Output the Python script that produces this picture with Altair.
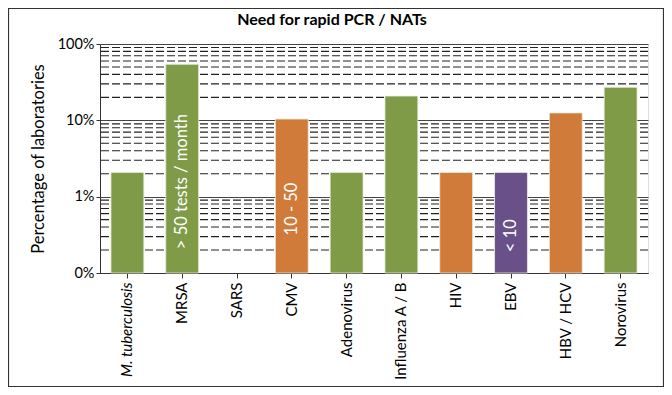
import altair as alt
import pandas as pd

categories = ["M. tuberculosis", "MRSA", "SARS", "CMV", "Adenovirus",
              "Influenza A / B", "HIV", "EBV", "HBV / HCV", "Norovirus"]
values = [2.08, 54.2, None, 10.4, 2.08, 20.8, 2.08, 2.08, 12.5, 27.1]
groups = ["> 50", "> 50", "> 50", "10 - 50", "> 50",
          "> 50", "10 - 50", "< 10", "10 - 50", "> 50"]
bar_labels = ["", "> 50 tests / month", "", "10 - 50", "", "", "", "< 10", "", ""]

group_domain = ["> 50", "10 - 50", "< 10"]
group_colors = ["#7F9B48", "#D17B3A", "#6A5088"]

major_ticks = [0.1, 1, 10, 100]
minor_ticks = [m * d for d in [0.1, 1, 10] for m in range(2, 10)]

FONT = "Lato"
W, H = 548, 229

df = pd.DataFrame({"cat": categories, "val": values, "grp": groups, "lab": bar_labels})

x = alt.X("cat:N", sort=categories, title=None,
          scale=alt.Scale(paddingInner=0.4, paddingOuter=0.2),
          axis=alt.Axis(labelAngle=270, labelFontSize=15, labelFont=FONT,
                        labelColor="#000", labelPadding=4, tickSize=5,
                        tickColor="#333", domainColor="#333",
                        labelFontStyle={"condition": {"test": "datum.value == 'M. tuberculosis'",
                                                      "value": "italic"},
                                        "value": "normal"}))

yscale = alt.Scale(type="log", domain=[0.1, 100])

minor = alt.Chart(pd.DataFrame({"v": minor_ticks})).mark_rule(
    color="#222", strokeDash=[8, 3], strokeWidth=1.1
).encode(y=alt.Y("v:Q", scale=yscale))

bars = alt.Chart(df).mark_bar(stroke="#E8EEDC", strokeWidth=0.8).encode(
    x=x,
    y=alt.Y("val:Q", scale=yscale,
            axis=alt.Axis(values=major_ticks, grid=True, gridColor="#444",
                          labelExpr="datum.value < 0.5 ? '0%' : datum.value + '%'",
                          labelFontSize=14.5, labelFont=FONT, labelColor="#000",
                          tickSize=4, tickColor="#333", domainColor="#333",
                          title="Percentage of laboratories", titleFont=FONT,
                          titleFontSize=16.5, titleFontWeight="normal", titleColor="#000",
                          titleAngle=270, titleX=-62, titleY=H / 2,
                          titleAlign="center", titleBaseline="middle")),
    y2=alt.datum(0.1),
    color=alt.Color("grp:N", scale=alt.Scale(domain=group_domain, range=group_colors),
                    legend=None),
)

texts = alt.Chart(df).transform_filter("datum.lab != ''").transform_calculate(
    mid="sqrt(datum.val * 0.1)"
).mark_text(angle=270, color="white", fontSize=16.5, font=FONT, dx=-13,
            align="center", baseline="middle").encode(
    x=alt.X("cat:N", sort=categories),
    y=alt.Y("mid:Q", scale=yscale),
    text="lab:N",
)

title = alt.Chart(pd.DataFrame({"t": ["Need for rapid PCR / NATs"]})).mark_text(
    fontSize=16, fontWeight="bold", font=FONT, color="#000", align="center", baseline="middle"
).encode(x=alt.value(232), y=alt.value(-24), text="t:N")

frame = alt.Chart(pd.DataFrame({"a": [0]})).mark_rect(
    fill=None, stroke="#333", strokeWidth=1.2
).encode(x=alt.value(-91.5), x2=alt.value(W + 15.5), y=alt.value(-35.5), y2=alt.value(H + 113.5))

chart = alt.layer(minor, bars, texts, title, frame).properties(
    width=W, height=H,
    padding={"left": 92, "top": 36, "right": 16, "bottom": 114},
    autosize="none",
).configure_view(stroke="#333", strokeWidth=1).configure(background="white")

chart.save("out.html", embed_options={"renderer": "svg", "actions": False})
